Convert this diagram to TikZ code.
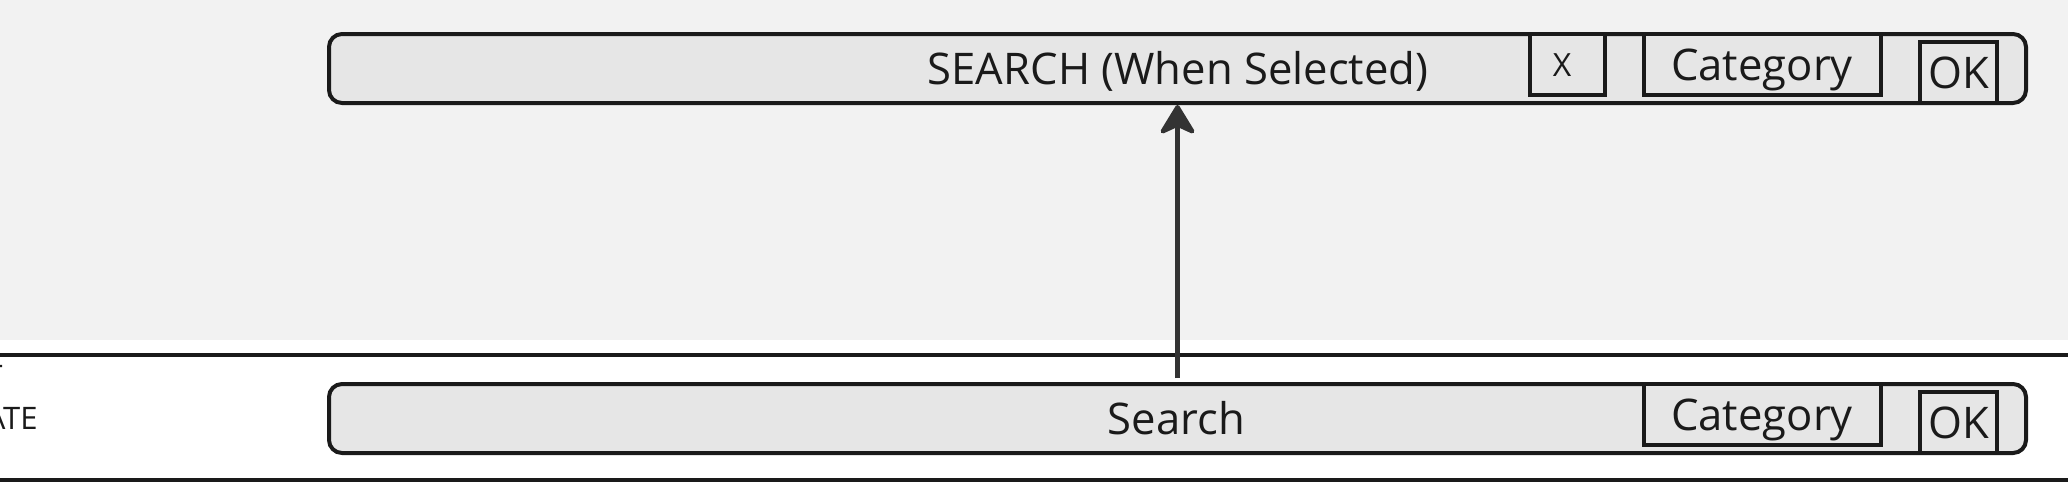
\documentclass[tikz,border=0pt]{standalone}
\usepackage{fontspec}
\setmainfont{Open Sans}
\usetikzlibrary{arrows.meta}
\definecolor{bggray}{HTML}{F2F2F2}
\definecolor{barfill}{HTML}{E6E6E6}
\definecolor{ink}{HTML}{1A1A1A}
\definecolor{arrowc}{HTML}{333333}
\begin{document}
\begin{tikzpicture}[x=0.5pt,y=-0.5pt,
  bar/.style={draw=ink, fill=barfill, line width=2pt, rounded corners=6.5pt,
    minimum width=848.5pt, minimum height=34.5pt, inner sep=0pt},
  btn/.style={draw=ink, fill=barfill, line width=2pt, inner sep=0pt, minimum height=30.5pt},
  lbl/.style={text=ink, font=\fontsize{21.8}{26}\selectfont, anchor=base, inner sep=0pt},
  smalllbl/.style={text=ink, font=\fontsize{16}{19}\selectfont, anchor=base, inner sep=0pt},
  sidelbl/.style={text=ink, font=\fontsize{15.5}{19}\selectfont, anchor=base east, inner sep=0pt},
  divider/.style={draw=ink, line width=2.2pt},
  flow/.style={draw=arrowc, line width=2.2pt, -{Stealth[length=16.5pt,width=20pt,inset=4.5pt,round]}}
]
\useasboundingbox (0,0) rectangle (2068,483);
\clip (0,0) rectangle (2068,483);
\fill[bggray] (0,0) rectangle (2068,340);
\fill[white] (0,340) rectangle (2068,483);

% dividers
\draw[divider] (0,355) -- (2068,355);
\draw[divider] (0,480) -- (2068,480);

% left label (cut off at the picture's left edge, as in the reference)
\node[sidelbl] (sideT) at (3,387) {T};
\node[sidelbl] (sideState) at (38,429) {STATE};

% top bar
\node[bar] (searchsel) at (1177.5,68.5) {};
\node[lbl] (searchseltxt) at (1178,84) {SEARCH (When Selected)};
\node[btn, minimum width=37.5pt] (xbtn) at (1567.5,64.5) {};
\node[smalllbl] (xtxt) at (1562,76) {X};
\node[btn, minimum width=118.5pt] (cattop) at (1762.5,64.5) {};
\node[lbl] (cattoptxt) at (1762,80) {Category};
\node[btn, minimum width=38.5pt] (oktop) at (1958.5,72.5) {};
\node[lbl] (oktoptxt) at (1958.5,88) {OK};

% bottom bar
\node[bar] (search) at (1177.5,418.5) {};
\node[lbl] (searchtxt) at (1176.5,434) {Search};
\node[btn, minimum width=118.5pt] (catbot) at (1762.5,414.5) {};
\node[lbl] (catbottxt) at (1762,430) {Category};
\node[btn, minimum width=38.5pt] (okbot) at (1958.5,422.5) {};
\node[lbl] (okbottxt) at (1958.5,438) {OK};

% connector
\draw[flow, shorten <=2pt] (search.north) -- (searchsel.south);
\end{tikzpicture}
\end{document}
